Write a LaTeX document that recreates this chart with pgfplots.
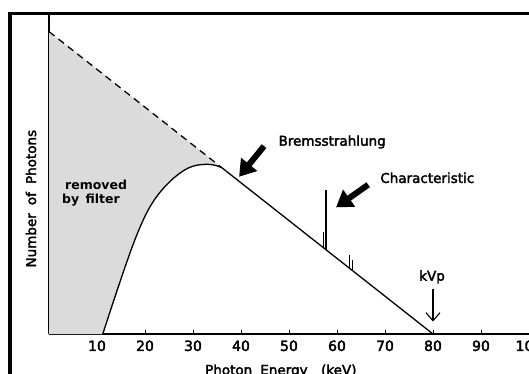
\documentclass[border=0pt]{standalone}
\usepackage{pgfplots}
\pgfplotsset{compat=1.18}
\usepackage{fontspec}
\setmainfont{DejaVu Sans}
\newfontfamily\lett[FakeBold=2.5]{DejaVu Sans}
\usetikzlibrary{arrows.meta}
\begin{document}
\begin{tikzpicture}
\useasboundingbox (0bp,0bp) rectangle (529bp,374bp);
\clip (0bp,0bp) rectangle (529bp,374bp);
\fill[white] (0bp,0bp) rectangle (529bp,374bp);
\draw[line width=3.5bp] (10bp,-20bp) -- (10bp,360.5bp) -- (600bp,360.5bp);
\begin{axis}[
  at={(49bp,40bp)}, anchor=south west,
  scale only axis, width=528bp, height=321.3bp,
  xmin=0, xmax=110, ymin=0, ymax=85,
  axis x line=bottom, axis y line=left,
  axis line style={-, line width=1.2bp},
  xtick={10,20,...,100}, ytick=\empty,
  tick align=inside, major tick length=4bp,
  tick style={line width=1bp, black},
  xticklabel style={font=\lett\fontsize{14bp}{15bp}\selectfont, yshift=-3bp},
  /pgf/number format/assume math mode=true,
  clip=false,
]
% region removed by filter
\addplot[fill=gray!28, draw=none] coordinates {
 (0,0) (0,80) (36,44) (35,44.5) (34,44.8) (33,44.9) (32,44.85) (31,44.7)
 (30,44.4) (29,43.9) (28,43.2) (27,42.3) (26,41.3) (25,40.1) (24,38.8)
 (23,37.3) (22,35.6) (21,33.6) (20,31.2) (19,28.4) (18,25.3) (17,21.9)
 (16,18.3) (15,14.6) (14,10.8) (13,7.0) (12,3.1) (11.2,0) (0,0)};
% unfiltered spectrum (dashed)
\addplot[black, line width=1.3bp, dash pattern=on 7bp off 5bp] coordinates {(0,80) (36,44)};
% filtered spectrum
\addplot[black, line width=1.3bp] coordinates {
 (11.2,0) (12,3.1) (13,7.0) (14,10.8) (15,14.6) (16,18.3) (17,21.9)
 (18,25.3) (19,28.4) (20,31.2) (21,33.6) (22,35.6) (23,37.3) (24,38.8)
 (25,40.1) (26,41.3) (27,42.3) (28,43.2) (29,43.9) (30,44.4) (31,44.7)
 (32,44.85) (33,44.9) (34,44.8) (35,44.5) (36,44.0) (37,43.0) (80,0)};
% characteristic lines
\addplot[black, line width=1.1bp] coordinates {(57.2,22.8) (57.2,27.0)};
\addplot[black, line width=1.5bp] coordinates {(57.7,22.3) (57.7,38.1)};
\addplot[black, line width=1.1bp] coordinates {(62.6,17.4) (62.6,20.8)};
\addplot[black, line width=1.1bp] coordinates {(63.3,16.7) (63.3,19.5)};
% annotations
\draw[black, line width=6bp, -{Triangle[length=16bp,width=20bp]}] (axis cs:44.8,49.7) -- (axis cs:39.6,41.6);
\draw[black, line width=6bp, -{Triangle[length=16bp,width=20bp]}] (axis cs:66.5,39.5) -- (axis cs:59.8,33.5);
\node[anchor=west, font=\lett\fontsize{13.5bp}{16bp}\selectfont] at (axis cs:47.1,50.8) {Bremsstrahlung};
\node[anchor=west, font=\lett\fontsize{13.5bp}{16bp}\selectfont] at (axis cs:68.3,41.3) {Characteristic};
\node[font=\lett\fontsize{13.5bp}{16bp}\selectfont] at (axis cs:79.8,15.1) {kVp};
\draw[black, line width=1.1bp, -{Straight Barb[length=8bp,width=14bp]}] (axis cs:80,12) -- (axis cs:80,3.3);
\node[font=\bfseries\fontsize{12.5bp}{14bp}\selectfont] at (axis cs:9.8,39.4) {removed};
\node[font=\bfseries\fontsize{12.5bp}{14bp}\selectfont] at (axis cs:8.75,35.5) {by\hspace{0.5em}filter};
\node[rotate=90, font=\lett\fontsize{13.5bp}{16bp}\selectfont] at (axis cs:-3.75,35.8) {Number\hspace{0.6em}of\hspace{0.6em}Photons};
\node[font=\lett\fontsize{13.5bp}{16bp}\selectfont] at (axis cs:48.3,-9.8) {Photon\hspace{0.6em}Energy\hspace{1em}(keV)};
\end{axis}
\end{tikzpicture}
\end{document}
